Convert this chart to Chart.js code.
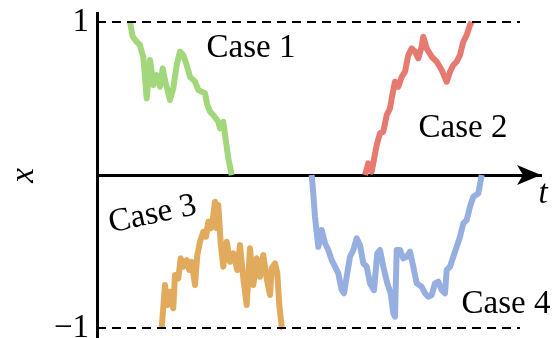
<!DOCTYPE html>
<html>
<head>
<meta charset="utf-8">
<script src="https://cdn.jsdelivr.net/npm/chart.js@4.4.1/dist/chart.umd.min.js"></script>
<style>
  body { margin: 0; background: #fff; }
  canvas { display: block; }
</style>
</head>
<body>
<canvas id="chart" width="558" height="338"></canvas>
<script>
// Four sample paths of x(t), each stopped when it first hits -1, 0 or 1
const case1T = [0.33, 0.357, 0.397, 0.43, 0.447, 0.463, 0.497, 0.53, 0.547, 0.563, 0.597, 0.63, 0.657, 0.68, 0.697, 0.73, 0.763, 0.797, 0.83, 0.863, 0.897, 0.93, 0.98, 1.013, 1.047, 1.08, 1.103, 1.13, 1.163, 1.213, 1.23, 1.263, 1.29, 1.313, 1.347];
const case1X = [1.0, 0.904, 0.871, 0.85, 0.806, 0.773, 0.501, 0.752, 0.675, 0.588, 0.654, 0.577, 0.697, 0.621, 0.577, 0.49, 0.567, 0.719, 0.806, 0.784, 0.719, 0.642, 0.61, 0.556, 0.544, 0.534, 0.458, 0.414, 0.392, 0.348, 0.305, 0.348, 0.218, 0.109, 0.0];

const case2T = [2.68, 2.713, 2.747, 2.797, 2.83, 2.863, 2.897, 2.93, 2.947, 2.98, 3.013, 3.047, 3.08, 3.113, 3.147, 3.18, 3.213, 3.247, 3.263, 3.297, 3.347, 3.397, 3.447, 3.497, 3.53, 3.563, 3.597, 3.63, 3.663, 3.697, 3.73, 3.747];
const case2X = [0.0, 0.076, 0.022, 0.196, 0.273, 0.283, 0.392, 0.436, 0.501, 0.61, 0.577, 0.642, 0.675, 0.784, 0.828, 0.806, 0.763, 0.839, 0.904, 0.828, 0.773, 0.741, 0.686, 0.61, 0.675, 0.719, 0.741, 0.784, 0.871, 0.915, 0.98, 1.0];

const case3T = [0.647, 0.68, 0.703, 0.73, 0.763, 0.78, 0.813, 0.837, 0.863, 0.897, 0.923, 0.947, 0.98, 1.003, 1.03, 1.063, 1.09, 1.113, 1.14, 1.163, 1.18, 1.197, 1.213, 1.237, 1.263, 1.297, 1.33, 1.363, 1.403, 1.43, 1.463, 1.497, 1.53, 1.563, 1.597, 1.63, 1.663, 1.697, 1.73, 1.747, 1.78, 1.803, 1.823, 1.847, 1.863];
const case3X = [-1.0, -0.719, -0.85, -0.763, -0.871, -0.654, -0.675, -0.544, -0.599, -0.556, -0.621, -0.567, -0.719, -0.523, -0.436, -0.371, -0.403, -0.305, -0.348, -0.261, -0.175, -0.348, -0.196, -0.446, -0.599, -0.436, -0.567, -0.512, -0.621, -0.458, -0.675, -0.85, -0.479, -0.719, -0.544, -0.665, -0.523, -0.675, -0.784, -0.61, -0.577, -0.642, -0.85, -0.992, -1.0];

const case4T = [2.147, 2.163, 2.18, 2.213, 2.247, 2.28, 2.313, 2.347, 2.38, 2.413, 2.447, 2.47, 2.497, 2.53, 2.563, 2.597, 2.63, 2.663, 2.697, 2.73, 2.77, 2.803, 2.83, 2.863, 2.903, 2.937, 2.963, 2.98, 2.997, 3.03, 3.063, 3.097, 3.13, 3.163, 3.197, 3.247, 3.28, 3.313, 3.347, 3.38, 3.413, 3.447, 3.48, 3.497, 3.53, 3.563, 3.597, 3.63, 3.663, 3.697, 3.73, 3.763, 3.813, 3.847];
const case4X = [0.0, -0.12, -0.273, -0.469, -0.359, -0.446, -0.49, -0.556, -0.599, -0.643, -0.752, -0.773, -0.665, -0.534, -0.49, -0.414, -0.458, -0.577, -0.599, -0.708, -0.752, -0.512, -0.49, -0.599, -0.708, -0.773, -0.904, -0.926, -0.49, -0.49, -0.544, -0.534, -0.501, -0.599, -0.708, -0.73, -0.773, -0.795, -0.784, -0.708, -0.697, -0.752, -0.773, -0.621, -0.599, -0.534, -0.469, -0.403, -0.316, -0.294, -0.207, -0.142, -0.12, 0.0];

// barrier lines at x = 1 and x = -1
const barrierT = [0, 4.23];
const barrierLevels = [1, -1];

const yTickValues = [-1, 0, 1];
const yTickLabels = ['\u22121', '', '1'];

const caseLabels = ['Case 1', 'Case 2', 'Case 3', 'Case 4'];

const serif = '"Liberation Serif", "DejaVu Serif", serif';

function toPoints(ts, xs) {
    return ts.map((t, i) => ({ x: t, y: xs[i] }));
}

const paths = [
    { t: case1T, x: case1X, color: '#a2d77c' },
    { t: case2T, x: case2X, color: '#e77a70' },
    { t: case3T, x: case3X, color: '#e1aa5c' },
    { t: case4T, x: case4X, color: '#97afe0' }
];

const datasets = [];
barrierLevels.forEach(level => {
    datasets.push({
        data: barrierT.map(t => ({ x: t, y: level })),
        borderColor: '#000',
        borderWidth: 2,
        borderDash: [9, 6],
        pointRadius: 0,
        showLine: true
    });
});
paths.forEach(p => {
    datasets.push({
        data: toPoints(p.t, p.x),
        borderColor: p.color,
        borderWidth: 6,
        borderJoinStyle: 'round',
        pointRadius: 0,
        showLine: true
    });
    // pale core line gives the doubled stroke look
    datasets.push({
        data: toPoints(p.t, p.x),
        borderColor: 'rgba(255,255,255,0.5)',
        borderWidth: 1.2,
        pointRadius: 0,
        showLine: true
    });
});

// label placement in data units
const labelSpots = [
    { t: 1.54, x: 0.771, rot: 0 },
    { t: 3.66, x: 0.248, rot: 0 },
    { t: 0.575, x: -0.314, rot: -12.3 },
    { t: 4.09, x: -0.902, rot: 0 }
];

const decorations = {
    id: 'decorations',
    afterDraw(chart) {
        const { ctx, chartArea, scales } = chart;
        const y0 = scales.y.getPixelForValue(0);
        const tip = chartArea.right;

        // arrow head on the t axis
        ctx.save();
        ctx.fillStyle = '#000';
        ctx.beginPath();
        ctx.moveTo(tip, y0);
        ctx.lineTo(tip - 24, y0 - 10);
        ctx.lineTo(tip - 18, y0);
        ctx.lineTo(tip - 24, y0 + 10);
        ctx.closePath();
        ctx.fill();

        // axis name t
        ctx.font = 'italic 33px ' + serif;
        ctx.textAlign = 'center';
        ctx.textBaseline = 'alphabetic';
        ctx.fillText('t', tip + 2, y0 + 28);

        // case labels
        ctx.font = '33px ' + serif;
        caseLabels.forEach((txt, i) => {
            const s = labelSpots[i];
            ctx.save();
            ctx.translate(scales.x.getPixelForValue(s.t), scales.y.getPixelForValue(s.x));
            ctx.rotate(s.rot * Math.PI / 180);
            ctx.fillText(txt, 0, 0);
            ctx.restore();
        });
        ctx.restore();
    }
};

new Chart(document.getElementById('chart').getContext('2d'), {
    type: 'scatter',
    data: { datasets },
    options: {
        responsive: false,
        animation: false,
        layout: { padding: { top: 13, right: 17, left: 0, bottom: 0 } },
        plugins: { legend: { display: false }, tooltip: { enabled: false } },
        scales: {
            x: {
                type: 'linear',
                min: 0,
                max: 4.44,
                position: { y: 0 },
                z: 1,
                grid: { display: false, drawTicks: false },
                border: { display: true, color: '#000', width: 3 },
                ticks: { display: false },
                afterFit(scale) {
                    scale.height = 0;
                    scale.paddingLeft = 0;
                    scale.paddingRight = 0;
                }
            },
            y: {
                type: 'linear',
                min: -1.065,
                max: 1.059,
                position: 'left',
                z: 1,
                grid: { display: false, drawTicks: false },
                border: { display: true, color: '#000', width: 3 },
                afterBuildTicks(scale) {
                    scale.ticks = yTickValues.map(v => ({ value: v }));
                },
                ticks: {
                    color: '#000',
                    padding: 8,
                    font: { family: serif, size: 33 },
                    callback: (v) => yTickLabels[yTickValues.indexOf(v)]
                },
                title: {
                    display: true,
                    text: 'x',
                    color: '#000',
                    font: { family: serif, size: 33, style: 'italic' },
                    padding: { top: 5, bottom: 0 }
                },
                afterFit(scale) {
                    scale.width = 97;
                    // let the end labels overhang the plot edges
                    scale.paddingTop = 0;
                    scale.paddingBottom = 0;
                }
            }
        }
    },
    plugins: [decorations]
});
</script>
</body>
</html>
